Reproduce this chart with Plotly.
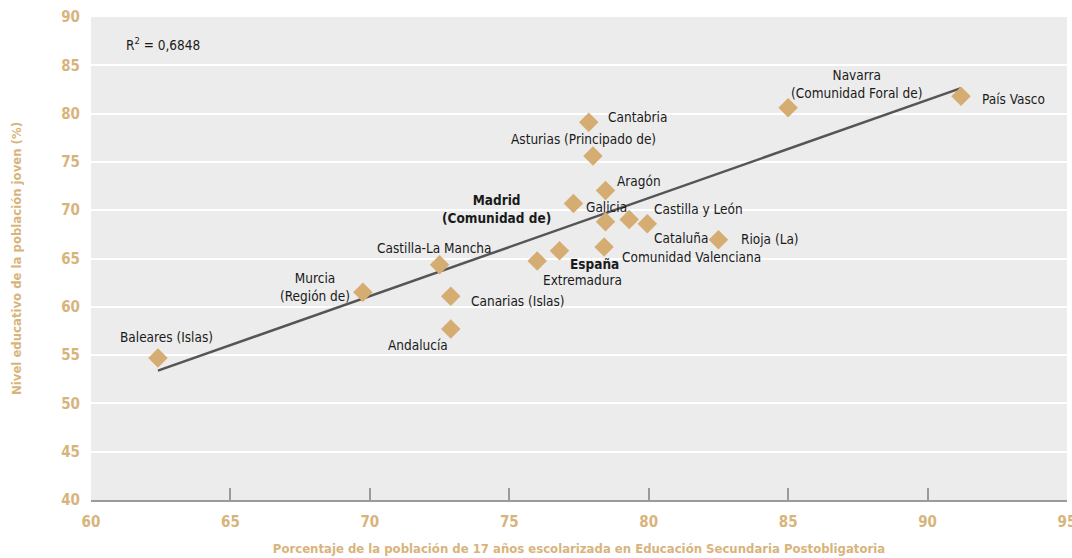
import numpy as np
import plotly.graph_objects as go

# datos
regiones = ['Baleares (Islas)', 'Murcia<br>(Región de)', 'Castilla-La Mancha', 'Canarias (Islas)',
            'Andalucía', 'Extremadura', 'España', 'Comunidad Valenciana',
            'Madrid<br>(Comunidad de)', 'Galicia', 'Aragón', 'Castilla y León', 'Cataluña',
            'Rioja (La)', 'Cantabria', 'Asturias (Principado de)',
            'Navarra<br>(Comunidad Foral de)', 'País Vasco']
escolarizacion = [62.4, 69.75, 72.5, 72.9, 72.9, 76.0, 76.8, 78.4,
                  77.3, 78.45, 78.45, 79.95, 79.3, 82.5, 77.85, 78.0, 85.0, 91.2]
nivel_educativo = [54.7, 61.5, 64.35, 61.1, 57.7, 64.75, 65.8, 66.2,
                   70.7, 68.8, 72.05, 68.6, 69.05, 66.95, 79.1, 75.6, 80.6, 81.8]

r2_text = 'R<sup>2</sup> = 0,6848'

# posicion de cada etiqueta respecto al punto (px)
label_pos = {
    'Baleares (Islas)': ('center', 9, 21),
    'Murcia<br>(Región de)': ('center', -48, 5),
    'Castilla-La Mancha': ('center', -6, 17),
    'Canarias (Islas)': ('left', 18, -5),
    'Andalucía': ('center', -33, -16),
    'Extremadura': ('left', 4, -19),
    'España': ('left', 9, -13),
    'Comunidad Valenciana': ('left', 16, -10),
    'Madrid<br>(Comunidad de)': ('center', -77, -6),
    'Galicia': ('left', -21, 15),
    'Aragón': ('left', 10, 9),
    'Castilla y León': ('left', 5, 15),
    'Cataluña': ('left', 23, -19),
    'Rioja (La)': ('left', 21, 1),
    'Cantabria': ('left', 17, 5),
    'Asturias (Principado de)': ('center', -9, 17),
    'Navarra<br>(Comunidad Foral de)': ('center', 69, 24),
    'País Vasco': ('left', 19, -3),
}
bold_labels = ['España', 'Madrid<br>(Comunidad de)']

tan = '#d8b47c'
marker_color = '#d5ad72'
font_family = 'Liberation Sans Narrow, Arial Narrow, DejaVu Sans Condensed, sans-serif'

# recta de regresión (CCAA sin España)
xs = np.array([x for r, x in zip(regiones, escolarizacion) if r != 'España'])
ys = np.array([y for r, y in zip(regiones, nivel_educativo) if r != 'España'])
pend, orig = np.polyfit(xs, ys, 1)
x_line = np.array([xs.min(), xs.max()])
y_line = pend * x_line + orig

fig = go.Figure()

fig.add_trace(go.Scatter(
    x=x_line, y=y_line, mode='lines',
    line=dict(color='#555555', width=2.5),
    hoverinfo='skip', showlegend=False
))

fig.add_trace(go.Scatter(
    x=escolarizacion, y=nivel_educativo, mode='markers',
    marker=dict(symbol='diamond', size=15, color=marker_color, line=dict(width=0)),
    text=[r.replace('<br>', ' ') for r in regiones],
    hoverinfo='text', showlegend=False
))

for reg, x, y in zip(regiones, escolarizacion, nivel_educativo):
    anchor, dx, dy = label_pos[reg]
    txt = '<b>' + reg + '</b>' if reg in bold_labels else reg
    fig.add_annotation(
        x=x, y=y, text=txt, showarrow=False,
        xanchor=anchor, yanchor='middle', xshift=dx, yshift=dy,
        font=dict(family=font_family, size=13.5, color='#1a1a1a')
    )

fig.add_annotation(
    x=0.034, y=0.945, xref='paper', yref='paper', text=r2_text, showarrow=False,
    xanchor='left', yanchor='middle',
    font=dict(family=font_family, size=13.5, color='#1a1a1a')
)

fig.update_layout(
    width=1072, height=558,
    margin=dict(l=91, r=5, t=17, b=58),
    paper_bgcolor='white',
    plot_bgcolor='#ececec',
    font=dict(family=font_family),
    xaxis=dict(
        range=[60, 95], dtick=5, showgrid=False, zeroline=False, automargin=False,
        showline=True, linecolor='#9a9a9a', linewidth=1.5,
        ticks='inside', ticklen=12, tickcolor='#9a9a9a', tickwidth=1.5,
        ticklabelstandoff=7, ticklabeloverflow='allow',
        tickfont=dict(family=font_family, size=15, color=tan, weight='bold'),
        title=dict(text='<b>Porcentaje de la población de 17 años escolarizada en Educación Secundaria Postobligatoria</b>',
                   font=dict(family=font_family, size=13, color=tan), standoff=14),
    ),
    yaxis=dict(
        range=[40, 90], dtick=5, showgrid=True, gridcolor='white', gridwidth=1.5,
        zeroline=False, showline=False, ticks='', ticklabelstandoff=10, automargin=False,
        tickfont=dict(family=font_family, size=15, color=tan, weight='bold'),
        title=dict(text='<b>Nivel educativo de la población joven (%)</b>',
                   font=dict(family=font_family, size=13, color=tan), standoff=36),
    ),
)

# sin margen en el body para que la figura ocupe la ventana entera
fig.write_html('out.html', config={'displayModeBar': False},
               post_script="document.body.style.margin='0';")
